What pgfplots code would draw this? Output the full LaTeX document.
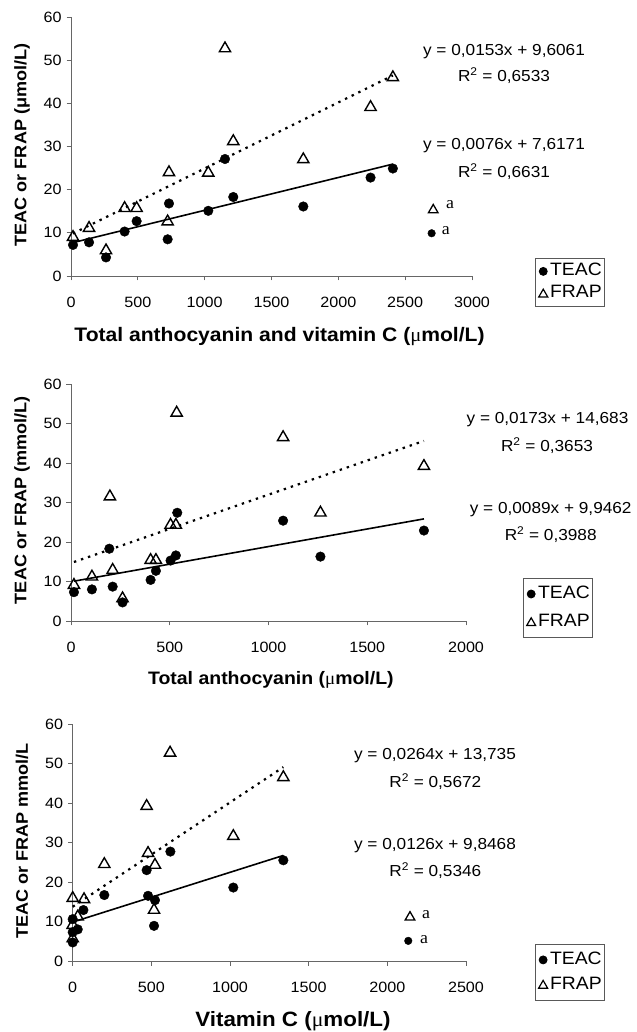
\documentclass[border=0pt]{standalone}
\usepackage{fontspec}
\setmainfont{Liberation Sans}[FakeStretch=1.08]
\newfontfamily\serifa{Liberation Serif}[FakeStretch=1.05]
\usepackage{pgfplots}
\pgfplotsset{compat=1.18}

\newcommand{\legtxt}[1]{\fontsize{18}{20}\selectfont #1\hspace{10bp}}

\pgfplotsset{
  panel/.style={
    scale only axis,
    axis x line*=bottom, axis y line*=left,
    axis line style={black!60, line width=0.8bp},
    tick style={black!60, line width=0.8bp},
    tick align=outside,
    major tick length=4.5bp,
    ymin=0, ymax=60, ytick={0,10,...,60},
    xmin=0,
    /pgf/number format/assume math mode=true,
    /pgf/number format/set thousands separator={},
    ticklabel style={font=\fontsize{15}{17}\selectfont, text=black},
    xticklabel style={yshift=-13bp},
    yticklabel style={xshift=-1.5bp},
    ylabel style={font=\bfseries\fontsize{16.8}{19}\selectfont, anchor=center},
    xlabel style={font=\bfseries\fontsize{18.1}{20}\selectfont, anchor=center},
    clip=false,
    legend cell align=left,
    legend style={draw=black!65, line width=0.8bp,
      anchor=north west, inner xsep=2bp, inner ysep=3.5bp, row sep=3bp,
      nodes={inner sep=1bp, text height=13bp, text depth=4bp},
      /tikz/every odd column/.append style={column sep=0bp}},
  },
  teac/.style={only marks, mark=*, mark size=4.8bp, black,
    legend image code/.code={\path (0bp,0bp) (11bp,0bp); \draw[##1] plot coordinates {(5.5bp,0bp)};},
    legend image post style={mark size=4bp}},
  frap/.style={only marks, mark=triangle, mark size=6.5bp, black, mark options={line width=1.4bp, fill=white},
    legend image code/.code={\path (0bp,0bp) (11bp,0bp); \draw[##1] plot coordinates {(5.5bp,-1bp)};},
    legend image post style={mark size=5.2bp, mark options={line width=1.2bp}}},
  teacA/.style={only marks, mark=*, mark size=3.8bp, black, forget plot},
  frapA/.style={only marks, mark=triangle, mark size=5.5bp, black, mark options={line width=1.3bp, fill=white}, forget plot},
  trendT/.style={no marks, black, line width=1.6bp, forget plot},
  trendF/.style={no marks, black, line width=2.2bp, dash pattern=on 2.4bp off 5bp, forget plot},
}

\begin{document}
\begin{tikzpicture}
\useasboundingbox (0,0) rectangle (637bp,1032bp);

% ---------------- Panel 1 ----------------
\begin{axis}[panel, at={(71bp,756bp)}, anchor=south west,
  width=401bp, height=259bp, xmax=3000, xtick={0,500,...,3000},
  xlabel={Total anthocyanin and vitamin C ({\serifa\mdseries μ}mol/L)},
  ylabel={TEAC or FRAP (μmol/L)},
  xlabel style={at={(axis description cs:0.52,-0.232)}, font=\bfseries\fontsize{19.6}{21}\selectfont},
  ylabel style={at={(axis description cs:-0.122,0.506)}},
  legend style={at={(axis description cs:1.157,0.0695)}}]
\addplot[trendT] coordinates {(15,7.73) (2408,25.92)};
\addplot[trendF] coordinates {(15,9.84) (2408,46.45)};
\addplot[teac] coordinates {
(15,7.2) (135,7.8) (262,4.3) (401,10.3) (491,12.7) (733,16.8) (723,8.5)
(1027,15.1) (1152,27.1) (1214,18.3) (1738,16.1) (2241,22.8) (2408,24.9)};
\addlegendentry{\legtxt{TEAC}}
\addplot[frap] coordinates {
(15,9.0) (135,11.1) (262,5.9) (401,15.7) (491,15.7) (733,24.0) (723,12.6)
(1027,23.9) (1152,52.7) (1214,31.2) (1738,27.0) (2241,39.1) (2408,46.0)};
\addlegendentry{\legtxt{FRAP}}
\addplot[teacA] coordinates {(2698,9.9)};
\addplot[frapA] coordinates {(2710,15.3)};
\end{axis}

% ---------------- Panel 2 ----------------
\begin{axis}[panel, at={(71bp,411bp)}, anchor=south west,
  width=395bp, height=237bp, xmax=2000, xtick={0,500,...,2000},
  xlabel={Total anthocyanin ({\serifa\mdseries μ}mol/L)},
  ylabel={TEAC or FRAP (mmol/L)},
  xlabel style={at={(axis description cs:0.506,-0.249)}},
  ylabel style={at={(axis description cs:-0.124,0.51)}},
  legend style={at={(axis description cs:1.144,0.181)}, inner ysep=6bp, row sep=9bp}]
\addplot[trendT] coordinates {(15,10.08) (1787,25.85)};
\addplot[trendF] coordinates {(15,14.94) (1787,45.60)};
\addplot[teac] coordinates {
(15,7.3) (106,8.0) (211,8.7) (194,18.3) (261,4.7) (403,10.4) (430,12.7)
(504,15.3) (531,16.6) (538,27.4) (1074,25.4) (1787,22.9) (1263,16.3)};
\addlegendentry{\legtxt{TEAC}}
\addplot[frap] coordinates {
(15,9.1) (106,11.2) (197,31.5) (211,12.9) (261,5.7) (403,15.4) (430,15.4)
(504,24.3) (531,24.3) (535,52.7) (1074,46.5) (1263,27.4) (1787,39.2)};
\addlegendentry{\legtxt{FRAP}}
\end{axis}

% ---------------- Panel 3 ----------------
\begin{axis}[panel, at={(72.7bp,71bp)}, anchor=south west,
  width=393.3bp, height=237bp, xmax=2500, xtick={0,500,...,2500},
  xlabel={Vitamin C ({\serifa\mdseries μ}mol/L)},
  ylabel={TEAC or FRAP mmol/L},
  xlabel style={at={(axis description cs:0.56,-0.253)}, font=\bfseries\fontsize{20.8}{22}\selectfont},
  ylabel style={at={(axis description cs:-0.129,0.506)}},
  legend style={at={(axis description cs:1.175,0.0717)}, inner ysep=6bp, row sep=5.7bp}]
\addplot[trendT] coordinates {(0,9.85) (1339,26.72)};
\addplot[trendF] coordinates {(0,13.74) (1339,49.09)};
\addplot[teac] coordinates {
(0,4.7) (0,10.6) (0,7.3) (32,8.0) (68,12.9) (201,16.7) (470,23.0)
(479,16.5) (523,15.4) (517,8.9) (621,27.7) (1021,18.6) (1339,25.5)};
\addlegendentry{\legtxt{TEAC}}
\addplot[frap] coordinates {
(0,15.9) (0,9.1) (0,5.7) (32,11.2) (72,15.6) (201,24.5) (470,39.2)
(479,27.3) (523,24.3) (517,12.9) (619,52.7) (1021,31.6) (1339,46.5)};
\addlegendentry{\legtxt{FRAP}}
\addplot[teacA] coordinates {(2133,5.1)};
\addplot[frapA] coordinates {(2144,11.1)};
\end{axis}

% ---------------- equations and annotations ----------------
\begin{scope}[every node/.style={font=\fontsize{16}{18}\selectfont, inner sep=0pt, anchor=center}]
\node at (504bp,980bp) {y = 0,0153x + 9,6061};
\node at (504bp,956bp) {R\textsuperscript{2} = 0,6533};
\node at (504bp,886bp) {y = 0,0076x + 7,6171};
\node at (504bp,860bp) {R\textsuperscript{2} = 0,6631};
\node at (547.5bp,612bp) {y = 0,0173x + 14,683};
\node at (547bp,586bp) {R\textsuperscript{2} = 0,3653};
\node at (550.7bp,522.7bp) {y = 0,0089x + 9,9462};
\node at (550.7bp,497bp) {R\textsuperscript{2} = 0,3988};
\node at (435bp,276bp) {y = 0,0264x + 13,735};
\node at (435.3bp,250.3bp) {R\textsuperscript{2} = 0,5672};
\node at (435bp,186.3bp) {y = 0,0126x + 9,8468};
\node at (435.3bp,161bp) {R\textsuperscript{2} = 0,5346};
\node[font=\serifa\fontsize{17}{19}\selectfont] at (450bp,827bp) {a};
\node[font=\serifa\fontsize{17}{19}\selectfont] at (445.7bp,801bp) {a};
\node[font=\serifa\fontsize{17}{19}\selectfont] at (426bp,117bp) {a};
\node[font=\serifa\fontsize{17}{19}\selectfont] at (424bp,92.7bp) {a};
\end{scope}
\end{tikzpicture}
\end{document}
